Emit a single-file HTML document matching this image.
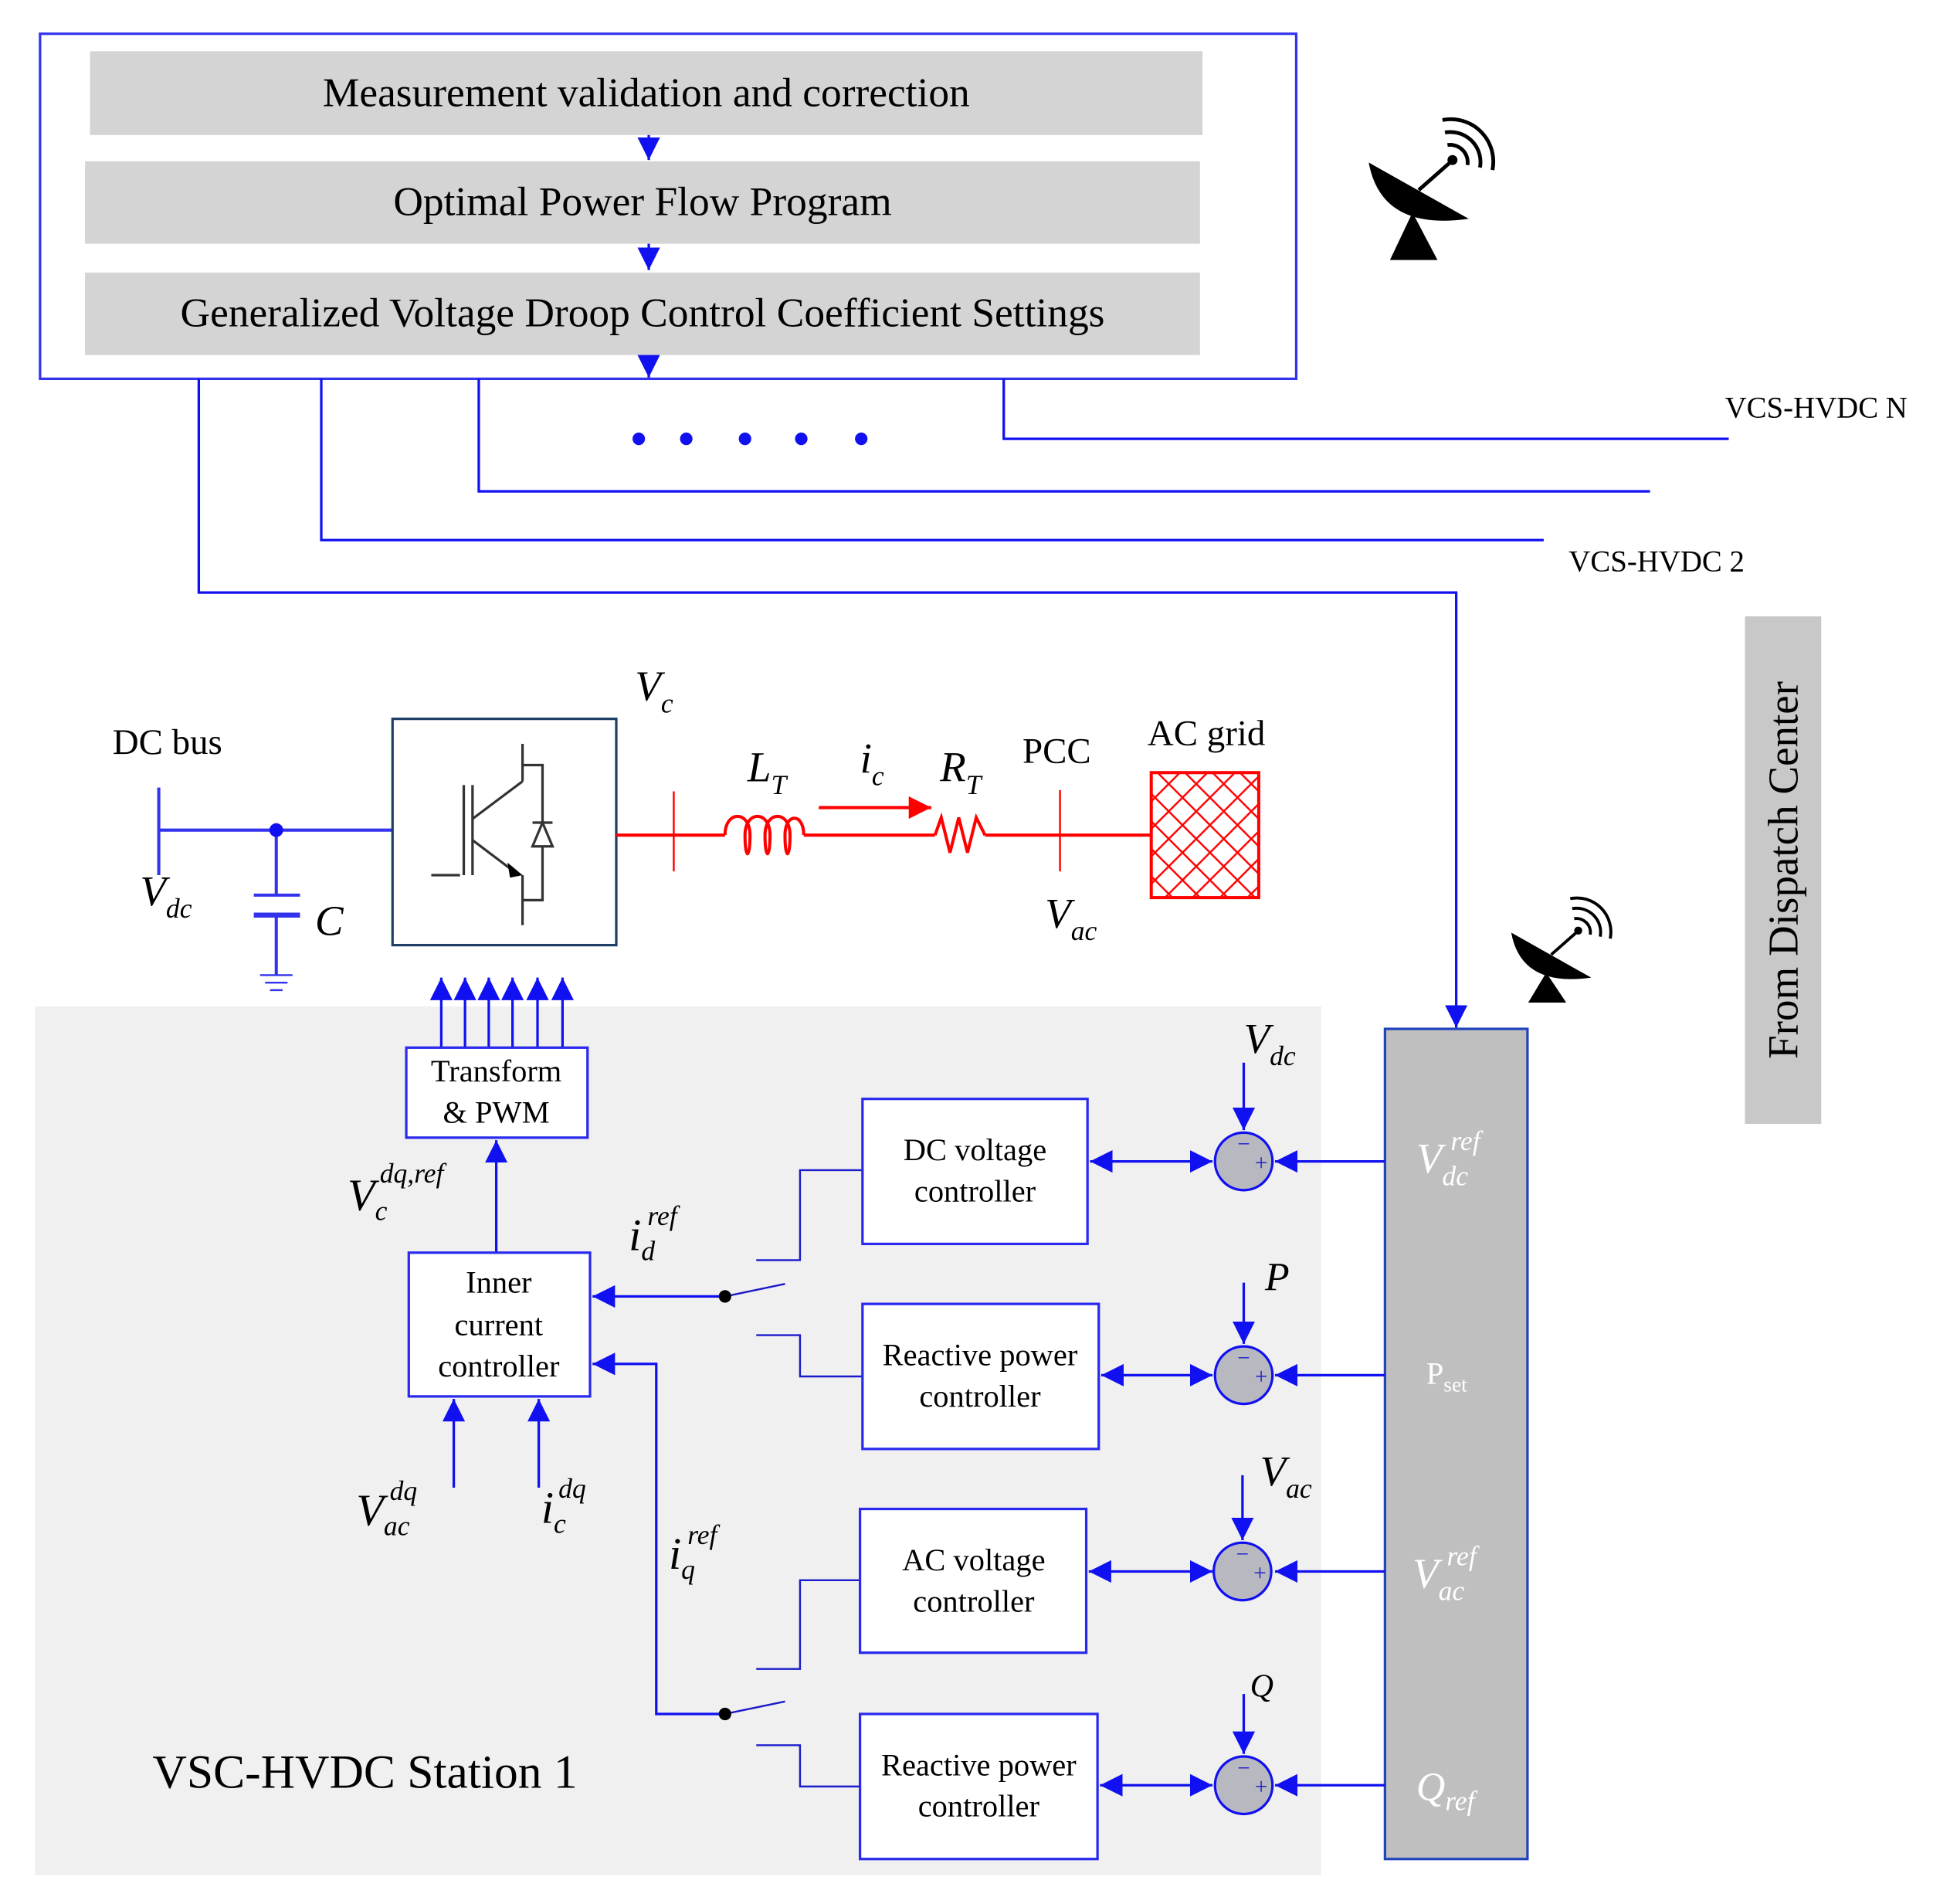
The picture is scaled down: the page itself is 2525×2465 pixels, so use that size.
<!DOCTYPE html>
<html><head><meta charset="utf-8"><style>
html,body{margin:0;padding:0;background:#fff}
svg{display:block}
text{font-family:"Liberation Serif",serif}
</style></head><body>
<svg width="2525" height="2465" viewBox="0 0 1560 1523" xmlns="http://www.w3.org/2000/svg">
<defs>
<marker id="ab" viewBox="0 0 10 10" refX="10" refY="5" markerWidth="7" markerHeight="7" orient="auto-start-reverse" markerUnits="userSpaceOnUse"><path d="M0,0L10,5L0,10z" fill="#1010f0"/></marker>
<marker id="ab2" viewBox="0 0 10 10" refX="10" refY="5" markerWidth="18" markerHeight="18" orient="auto-start-reverse" markerUnits="userSpaceOnUse"><path d="M0,0L10,5L0,10z" fill="#1010f0"/></marker>
<marker id="ar" viewBox="0 0 10 10" refX="10" refY="5" markerWidth="20" markerHeight="18" orient="auto" markerUnits="userSpaceOnUse"><path d="M0,0L10,5L0,10z" fill="#f00"/></marker>
<pattern id="hatch" width="22" height="22" patternUnits="userSpaceOnUse"><path d="M0,0L22,22M22,0L0,22" stroke="#f00" stroke-width="1.5"/></pattern>
</defs>

<!-- top box -->
<rect x="32" y="27" width="1005" height="276" fill="none" stroke="#3333ee" stroke-width="2"/>
<rect x="72" y="41" width="890" height="67" fill="#d4d4d4"/>
<rect x="68" y="129" width="892" height="66" fill="#d4d4d4"/>
<rect x="68" y="218" width="892" height="66" fill="#d4d4d4"/>
<text x="517" y="85" font-size="33" text-anchor="middle">Measurement validation and correction</text>
<text x="514" y="172" font-size="33" text-anchor="middle">Optimal Power Flow Program</text>
<text x="514" y="261" font-size="33" text-anchor="middle">Generalized Voltage Droop Control Coefficient Settings</text>
<g stroke="#1010f0" stroke-width="2" fill="none">
<line x1="519" y1="108" x2="519" y2="128" marker-end="url(#ab2)"/>
<line x1="519" y1="195" x2="519" y2="216" marker-end="url(#ab2)"/>
<line x1="519" y1="284" x2="519" y2="302" marker-end="url(#ab2)"/>
<polyline points="159,303 159,474 1165,474 1165,822" marker-end="url(#ab2)"/>
<polyline points="257,303 257,432 1235,432"/>
<polyline points="383,303 383,393 1320,393"/>
<polyline points="803,303 803,351 1383,351"/>
</g>
<g fill="#1010f0"><circle cx="511" cy="351" r="5"/><circle cx="549" cy="351" r="5"/><circle cx="596" cy="351" r="5"/><circle cx="641" cy="351" r="5"/><circle cx="689" cy="351" r="5"/></g>
<text x="1380" y="334" font-size="24">VCS-HVDC N</text>
<text x="1255" y="457" font-size="24">VCS-HVDC 2</text>

<!-- satellites -->
<g id="sat" transform="translate(1090,100)">
<path d="M5,30 Q15,85 85,75 Z" fill="#000"/>
<path d="M40,70 L22,108 L60,108 Z" fill="#000"/>
<line x1="45" y1="52" x2="70" y2="30" stroke="#000" stroke-width="3"/>
<circle cx="72" cy="28" r="4" fill="#000"/>
<path d="M68,16 A14,14 0 0 1 84,32" stroke="#000" stroke-width="3" fill="none"/>
<path d="M66,6 A24,24 0 0 1 94,34" stroke="#000" stroke-width="3" fill="none"/>
<path d="M64,-4 A34,34 0 0 1 104,36" stroke="#000" stroke-width="3" fill="none"/>
</g>
<g transform="translate(1205,722) scale(0.8)">
<path d="M5,30 Q15,85 85,75 Z" fill="#000"/>
<path d="M40,70 L22,100 L60,100 Z" fill="#000"/>
<line x1="45" y1="52" x2="70" y2="30" stroke="#000" stroke-width="3"/>
<circle cx="72" cy="28" r="4" fill="#000"/>
<path d="M68,16 A14,14 0 0 1 84,32" stroke="#000" stroke-width="3" fill="none"/>
<path d="M66,6 A24,24 0 0 1 94,34" stroke="#000" stroke-width="3" fill="none"/>
<path d="M64,-4 A34,34 0 0 1 104,36" stroke="#000" stroke-width="3" fill="none"/>
</g>

<!-- From Dispatch Center -->
<rect x="1396" y="493" width="61" height="406" fill="#c8c8c8"/>
<text transform="translate(1438,696) rotate(-90)" font-size="34" text-anchor="middle">From Dispatch Center</text>

<!-- gray area -->
<rect x="28" y="805" width="1029" height="695" fill="#f0f0f0"/>
<rect x="1108" y="823" width="114" height="664" fill="#bfbfbf" stroke="#2244bb" stroke-width="2"/>

<!-- DC circuit -->
<text x="90" y="603" font-size="29">DC  bus</text>
<g stroke="#3333ee" stroke-width="2.5" fill="none">
<line x1="127" y1="630" x2="127" y2="700"/>
<line x1="127" y1="664" x2="314" y2="664"/>
<line x1="221" y1="664" x2="221" y2="716"/>
<line x1="203" y1="716" x2="240" y2="716"/>
<line x1="203" y1="732" x2="240" y2="732" stroke-width="4"/>
<line x1="221" y1="732" x2="221" y2="780"/>
<line x1="208" y1="780" x2="234" y2="780" stroke-width="1.5"/>
<line x1="212" y1="786" x2="230" y2="786" stroke-width="1.5"/>
<line x1="216" y1="792" x2="226" y2="792" stroke-width="1.5"/>
</g>
<circle cx="221" cy="664" r="5.5" fill="#1010f0"/>
<text x="112" y="724" font-size="34" font-style="italic">V<tspan font-size="22" dy="10">dc</tspan></text>
<text x="252" y="748" font-size="34" font-style="italic">C</text>

<!-- converter -->
<rect x="314" y="575" width="179" height="181" fill="#fff" stroke="#1f3f66" stroke-width="2"/>
<g stroke="#333" stroke-width="2" fill="none">
<line x1="371" y1="628" x2="371" y2="700"/>
<polyline points="345,700 368,700"/>
<line x1="378" y1="628" x2="378" y2="700"/>
<line x1="378" y1="655" x2="418" y2="625"/>
<line x1="418" y1="595" x2="418" y2="625"/>
<line x1="378" y1="672" x2="415" y2="700"/>
<line x1="418" y1="700" x2="418" y2="740"/>
<polyline points="418,612 434,612 434,720 418,720"/>
<polygon points="426,677 442,677 434,658" fill="#fff"/>
<line x1="426" y1="658" x2="442" y2="658"/>
</g>
<polygon points="406,690 418,700 408,702" fill="#000"/>

<!-- red AC -->
<g stroke="#f00" stroke-width="2.5" fill="none">
<line x1="493" y1="668" x2="580" y2="668"/>
<line x1="539" y1="633" x2="539" y2="697" stroke-width="1.5"/>
<path d="M580,668 C580,648 600,648 600,668 C600,688 596,688 596,668 C596,648 616,648 616,668 C616,688 612,688 612,668 C612,648 632,648 632,668 C632,688 628,688 628,668 C628,650 643,650 643,668"/>
<line x1="643" y1="668" x2="748" y2="668"/>
<polyline points="748,668 753,654 760,682 767,654 774,682 781,654 788,668"/>
<line x1="788" y1="668" x2="921" y2="668"/>
<line x1="848" y1="632" x2="848" y2="697" stroke-width="1.5"/>
<line x1="655" y1="646" x2="745" y2="646" marker-end="url(#ar)"/>
</g>
<rect x="921" y="618" width="86" height="100" fill="url(#hatch)" stroke="#f00" stroke-width="2.5"/>
<text x="508" y="560" font-size="34" font-style="italic">V<tspan font-size="22" dy="10">c</tspan></text>
<text x="598" y="625" font-size="34" font-style="italic">L<tspan font-size="22" dy="10">T</tspan></text>
<text x="688" y="618" font-size="34" font-style="italic">i<tspan font-size="22" dy="10">c</tspan></text>
<text x="752" y="625" font-size="34" font-style="italic">R<tspan font-size="22" dy="10">T</tspan></text>
<text x="818" y="610" font-size="29">PCC</text>
<text x="918" y="596" font-size="29">AC grid</text>
<text x="836" y="742" font-size="34" font-style="italic">V<tspan font-size="22" dy="10">ac</tspan></text>

<!-- control -->
<g stroke="#1010f0" stroke-width="2" fill="none">
<line x1="353" y1="838" x2="353" y2="782" marker-end="url(#ab2)"/>
<line x1="372" y1="838" x2="372" y2="782" marker-end="url(#ab2)"/>
<line x1="391" y1="838" x2="391" y2="782" marker-end="url(#ab2)"/>
<line x1="410" y1="838" x2="410" y2="782" marker-end="url(#ab2)"/>
<line x1="430" y1="838" x2="430" y2="782" marker-end="url(#ab2)"/>
<line x1="450" y1="838" x2="450" y2="782" marker-end="url(#ab2)"/>
<line x1="397" y1="1002" x2="397" y2="912" marker-end="url(#ab2)"/>
<line x1="363" y1="1190" x2="363" y2="1119" marker-end="url(#ab2)"/>
<line x1="431" y1="1190" x2="431" y2="1119" marker-end="url(#ab2)"/>
<line x1="580" y1="1037" x2="474" y2="1037" marker-end="url(#ab2)"/>
<polyline points="580,1371 525,1371 525,1091 474,1091" marker-end="url(#ab2)"/>
</g>
<g stroke="#1a1acc" stroke-width="1.5" fill="none">
<line x1="580" y1="1037" x2="628" y2="1027"/>
<polyline points="605,1008 640,1008 640,936 690,936"/>
<polyline points="605,1068 640,1068 640,1101 690,1101"/>
<line x1="580" y1="1371" x2="628" y2="1361"/>
<polyline points="605,1335 640,1335 640,1264 688,1264"/>
<polyline points="605,1396 640,1396 640,1429 688,1429"/>
</g>
<circle cx="580" cy="1037" r="5" fill="#000"/>
<circle cx="580" cy="1371" r="5" fill="#000"/>

<g fill="#fff" stroke="#2a2aee" stroke-width="2">
<rect x="325" y="838" width="145" height="72"/>
<rect x="327" y="1002" width="145" height="115"/>
<rect x="690" y="879" width="180" height="116"/>
<rect x="690" y="1043" width="189" height="116"/>
<rect x="688" y="1207" width="181" height="115"/>
<rect x="688" y="1371" width="190" height="116"/>
</g>
<g font-size="25" text-anchor="middle">
<text x="397" y="865">Transform</text><text x="397" y="898">&amp; PWM</text>
<text x="399" y="1034">Inner</text><text x="399" y="1068">current</text><text x="399" y="1101">controller</text>
<text x="780" y="928">DC voltage</text><text x="780" y="961">controller</text>
<text x="784" y="1092">Reactive power</text><text x="784" y="1125">controller</text>
<text x="779" y="1256">AC voltage</text><text x="779" y="1289">controller</text>
<text x="783" y="1420">Reactive power</text><text x="783" y="1453">controller</text>
</g>

<!-- summing junctions -->
<g stroke="#1010f0" stroke-width="2" fill="none">
<line x1="872" y1="929" x2="970" y2="929" marker-start="url(#ab2)" marker-end="url(#ab2)"/>
<line x1="881" y1="1100" x2="970" y2="1100" marker-start="url(#ab2)" marker-end="url(#ab2)"/>
<line x1="871" y1="1257" x2="970" y2="1257" marker-start="url(#ab2)" marker-end="url(#ab2)"/>
<line x1="880" y1="1428" x2="970" y2="1428" marker-start="url(#ab2)" marker-end="url(#ab2)"/>
<line x1="1108" y1="929" x2="1020" y2="929" marker-end="url(#ab2)"/>
<line x1="1108" y1="1100" x2="1020" y2="1100" marker-end="url(#ab2)"/>
<line x1="1108" y1="1257" x2="1020" y2="1257" marker-end="url(#ab2)"/>
<line x1="1108" y1="1428" x2="1020" y2="1428" marker-end="url(#ab2)"/>
<line x1="995" y1="850" x2="995" y2="904" marker-end="url(#ab2)"/>
<line x1="995" y1="1026" x2="995" y2="1075" marker-end="url(#ab2)"/>
<line x1="994" y1="1180" x2="994" y2="1232" marker-end="url(#ab2)"/>
<line x1="995" y1="1355" x2="995" y2="1403" marker-end="url(#ab2)"/>
</g>
<g fill="#b8b8c0" stroke="#1010f0" stroke-width="2">
<circle cx="995" cy="929" r="23"/><circle cx="995" cy="1100" r="23"/><circle cx="994" cy="1257" r="23"/><circle cx="995" cy="1428" r="23"/>
</g>
<g font-size="18" fill="#2222cc" text-anchor="middle">
<text x="995" y="921">−</text><text x="1009" y="936">+</text>
<text x="995" y="1092">−</text><text x="1009" y="1107">+</text>
<text x="994" y="1249">−</text><text x="1008" y="1264">+</text>
<text x="995" y="1420">−</text><text x="1009" y="1435">+</text>
</g>

<g font-style="italic">
<text x="995" y="842" font-size="34">V<tspan font-size="22" dy="10">dc</tspan></text>
<text x="1012" y="1032" font-size="32">P</text>
<text x="1008" y="1188" font-size="34">V<tspan font-size="22" dy="10">ac</tspan></text>
<text x="1000" y="1357" font-size="26">Q</text>
<text x="278" y="968" font-size="36">V<tspan font-size="22" dx="0" dy="8">c</tspan><tspan font-size="22" dx="-6" dy="-30">dq,ref</tspan></text>
<text x="503" y="1000" font-size="36">i<tspan font-size="22" dy="8">d</tspan><tspan font-size="22" dx="-6" dy="-28">ref</tspan></text>
<text x="535" y="1255" font-size="36">i<tspan font-size="22" dy="8">q</tspan><tspan font-size="22" dx="-6" dy="-28">ref</tspan></text>
<text x="285" y="1220" font-size="36">V<tspan font-size="22" dy="8">ac</tspan><tspan font-size="22" dx="-16" dy="-28">dq</tspan></text>
<text x="433" y="1218" font-size="36">i<tspan font-size="22" dy="8">c</tspan><tspan font-size="22" dx="-6" dy="-28">dq</tspan></text>
</g>
<g fill="#fff" font-style="italic">
<text x="1133" y="938" font-size="34">V<tspan font-size="22" dy="10">dc</tspan><tspan font-size="22" dx="-14" dy="-28">ref</tspan></text>
<text x="1130" y="1270" font-size="34">V<tspan font-size="22" dy="10">ac</tspan><tspan font-size="22" dx="-14" dy="-28">ref</tspan></text>
<text x="1133" y="1440" font-size="32">Q<tspan font-size="22" dy="8">ref</tspan></text>
</g>
<text x="1141" y="1107" font-size="25" fill="#fff">P<tspan font-size="17" dy="6">set</tspan></text>

<text x="122" y="1430" font-size="38">VSC-HVDC Station 1</text>
</svg>
</body></html>
